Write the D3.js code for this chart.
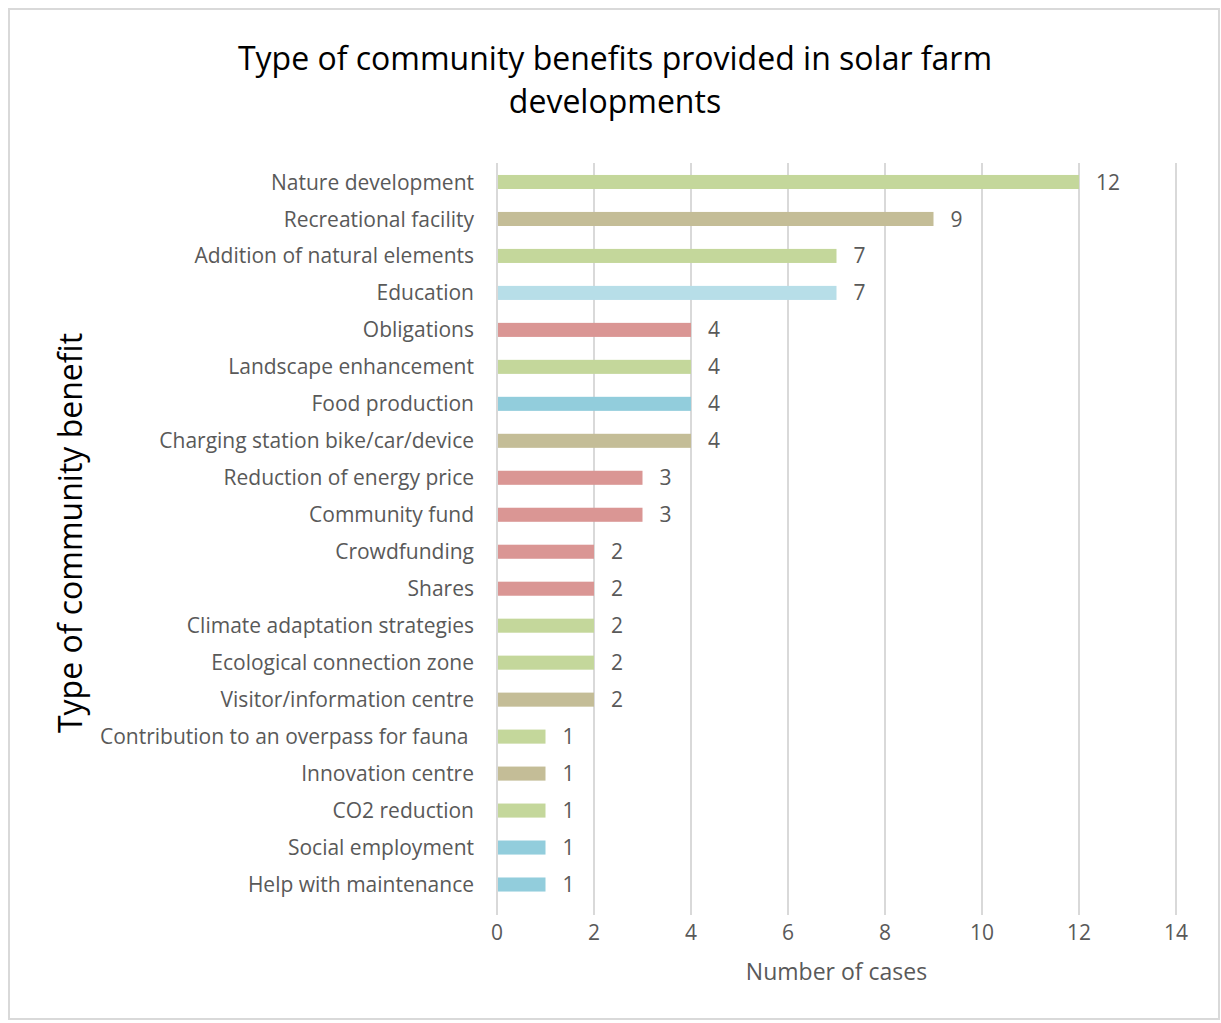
<!DOCTYPE html>
<html>
<head>
<meta charset="utf-8">
<title>Community benefits</title>
<script src="https://cdn.jsdelivr.net/npm/d3@7"></script>
<style>
  body { margin: 0; background: #fff; }
  text { font-family: "Open Sans", Lato, sans-serif; }
  .lab { fill: #595959; font-size: 21px; white-space: pre; }
</style>
</head>
<body>
<svg id="chart" width="1221" height="1023"></svg>
<script>
// data
var categories = ["Nature development", "Recreational facility", "Addition of natural elements", "Education",
  "Obligations", "Landscape enhancement", "Food production", "Charging station bike/car/device",
  "Reduction of energy price", "Community fund", "Crowdfunding", "Shares", "Climate adaptation strategies",
  "Ecological connection zone", "Visitor/information centre", "Contribution to an overpass for fauna ",
  "Innovation centre", "CO2 reduction", "Social employment", "Help with maintenance"];
var values = [12, 9, 7, 7, 4, 4, 4, 4, 3, 3, 2, 2, 2, 2, 2, 1, 1, 1, 1, 1];
var groups = ["nature", "facility", "nature", "edu", "finance", "nature", "social", "facility",
  "finance", "finance", "finance", "finance", "nature", "nature", "facility", "nature",
  "facility", "nature", "social", "social"];
var groupNames = ["nature", "facility", "edu", "social", "finance"];
var groupColors = ["#c4d79b", "#c4bd97", "#b7dee8", "#92cddc", "#da9694"];
var xTicks = [0, 2, 4, 6, 8, 10, 12, 14];

var svg = d3.select("#chart");

// outer frame
svg.append("rect").attr("x", 9).attr("y", 9).attr("width", 1210).attr("height", 1010)
  .attr("fill", "#fff").attr("stroke", "#d9d9d9").attr("stroke-width", 2);

var x = d3.scaleLinear().domain([0, 14]).range([497, 1176]);
var y = d3.scaleBand().domain(categories).range([163.5, 903]).paddingInner(0.62).paddingOuter(0.31);
var color = d3.scaleOrdinal().domain(groupNames).range(groupColors);

// gridlines
svg.append("g").selectAll("line").data(xTicks).enter().append("line")
  .attr("x1", function(d) { return x(d); }).attr("x2", function(d) { return x(d); })
  .attr("y1", 163).attr("y2", 915)
  .attr("stroke", "#d9d9d9").attr("stroke-width", 2);

// bars
svg.append("g").selectAll("rect").data(values).enter().append("rect")
  .attr("x", x(0) + 1)
  .attr("y", function(d, i) { return y(categories[i]); })
  .attr("width", function(d) { return x(d) - x(0) - 1; })
  .attr("height", y.bandwidth())
  .attr("fill", function(d, i) { return color(groups[i]); });

// value labels
svg.append("g").selectAll("text").data(values).enter().append("text")
  .attr("class", "lab")
  .attr("x", function(d) { return x(d) + 17; })
  .attr("y", function(d, i) { return y(categories[i]) + y.bandwidth() / 2; })
  .attr("dy", "0.36em")
  .text(function(d) { return d; });

// category labels
svg.append("g").selectAll("text").data(categories).enter().append("text")
  .attr("class", "lab")
  .attr("x", 474)
  .attr("y", function(d) { return y(d) + y.bandwidth() / 2; })
  .attr("dy", "0.36em")
  .attr("text-anchor", "end")
  .text(function(d) { return d; });

// x tick labels
svg.append("g").selectAll("text").data(xTicks).enter().append("text")
  .attr("class", "lab")
  .attr("x", function(d) { return x(d); })
  .attr("y", 940)
  .attr("text-anchor", "middle")
  .text(function(d) { return d; });

// axis titles
svg.append("text").attr("class", "lab").attr("x", (x(0) + x(14)) / 2).attr("y", 980)
  .attr("text-anchor", "middle").style("font-size", "23px").text("Number of cases");

svg.append("text").attr("transform", "translate(82,533) rotate(-90)")
  .attr("text-anchor", "middle").attr("fill", "#000").style("font-size", "32px")
  .text("Type of community benefit");

// title
var title = svg.append("text").attr("text-anchor", "middle").attr("fill", "#000").style("font-size", "32px");
title.append("tspan").attr("x", 615).attr("y", 70).text("Type of community benefits provided in solar farm");
title.append("tspan").attr("x", 615).attr("y", 113).text("developments");
</script>
</body>
</html>
